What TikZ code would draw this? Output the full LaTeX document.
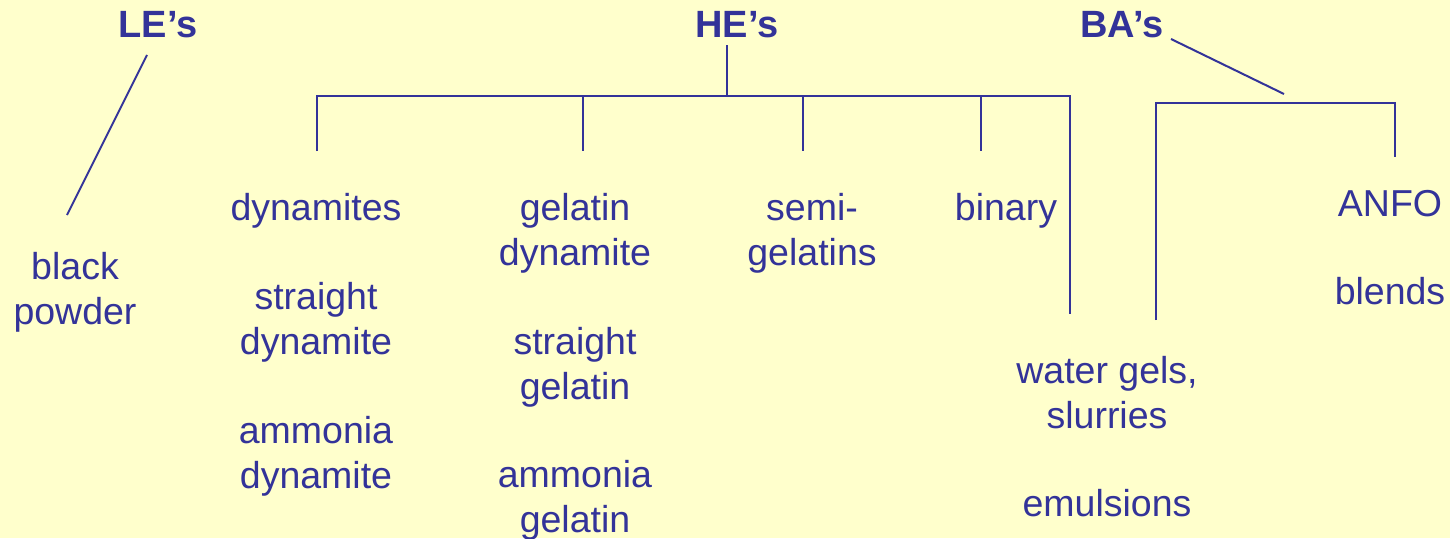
\documentclass[tikz,border=0pt]{standalone}
\usepackage{fontspec}
\setmainfont{Liberation Sans}
\definecolor{bg}{HTML}{FFFFCC}
\definecolor{ink}{HTML}{333399}
\begin{document}
\begin{tikzpicture}[x=1pt,y=-1pt,
  lbl/.style={text=ink,inner sep=0pt,anchor=base,align=center,font=\fontsize{37.5}{45}\selectfont},
  head/.style={lbl,font=\fontsize{38}{45}\selectfont\bfseries},
  conn/.style={draw=ink,line width=2pt}]
\fill[bg] (0,0) rectangle (1450,538);
\useasboundingbox (0,0) rectangle (1450,538);
% headings
\node[head] (le) at (158,37) {LE’s};
\node[head] (he) at (737,37) {HE’s};
\node[head] (ba) at (1122,37) {BA’s};
% coordinates
\coordinate (leA) at (147,55);
\coordinate (leB) at (67,215);
\coordinate (heTop) at (727,45);
\coordinate (heJ) at (727,96);
\coordinate (h1) at (317,96);
\coordinate (h2) at (583,96);
\coordinate (h3) at (803,96);
\coordinate (h4) at (981,96);
\coordinate (h5) at (1070,96);
\coordinate (h1e) at (317,151);
\coordinate (h2e) at (583,151);
\coordinate (h3e) at (803,151);
\coordinate (h4e) at (981,151);
\coordinate (h5e) at (1070,314);
\coordinate (baA) at (1171,39);
\coordinate (baB) at (1284,94);
\coordinate (b1) at (1156,103);
\coordinate (b2) at (1395,103);
\coordinate (b1e) at (1156,320);
\coordinate (b2e) at (1395,157);
% connectors
\draw[conn] (leA) -- (leB);
\draw[conn] (heTop) -- (heJ);
\draw[conn] (h1e) -- (h1) -- (h5) -- (h5e);
\draw[conn] (h2) -- (h2e);
\draw[conn] (h3) -- (h3e);
\draw[conn] (h4) -- (h4e);
\draw[conn] (baA) -- (baB);
\draw[conn] (b1e) -- (b1) -- (b2) -- (b2e);
% labels
\node[lbl] (bp) at (75,324) {black\\powder};
\node[lbl] (dyn) at (316,220) {dynamites};
\node[lbl] (sdyn) at (316,354) {straight\\dynamite};
\node[lbl] (adyn) at (316,488) {ammonia\\dynamite};
\node[lbl] (gdyn) at (575,265) {gelatin\\dynamite};
\node[lbl] (sgel) at (575,399) {straight\\gelatin};
\node[lbl] (agel) at (575,532) {ammonia\\gelatin};
\node[lbl] (semi) at (812,265) {semi-\\gelatins};
\node[lbl] (bin) at (1006,220) {binary};
\node[lbl] (wg) at (1107,428) {water gels,\\slurries};
\node[lbl] (emu) at (1107,516) {emulsions};
\node[lbl] (anfo) at (1390,216) {ANFO};
\node[lbl] (blend) at (1390,304) {blends};
\end{tikzpicture}
\end{document}
